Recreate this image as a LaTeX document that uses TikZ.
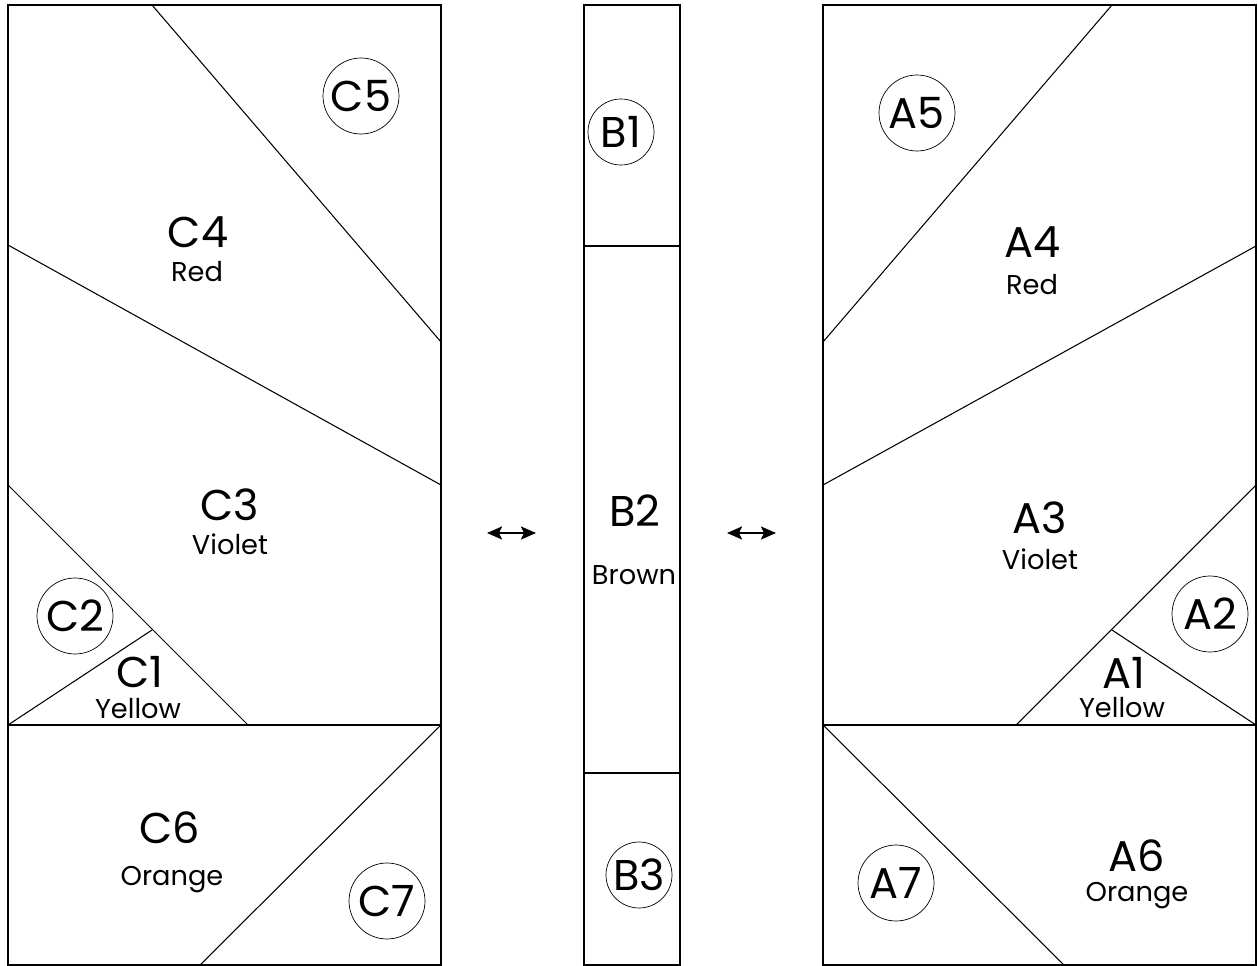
\documentclass[tikz,border=0pt]{standalone}
\usepackage{fontspec}
\setmainfont{Poppins}
\usepackage{tikz}
\usetikzlibrary{arrows, arrows.meta}
\usetikzlibrary{positioning}

\tikzset{
	piece/.style={line width=0.6pt},
	bigtag/.style={anchor=base, inner sep=0pt, font=\fontsize{24.5}{26}\selectfont},
	colourtag/.style={anchor=base, inner sep=0pt, font=\fontsize{15.5}{17}\selectfont},
	ringtag/.style={circle, draw, line width=0.4pt, inner sep=0pt, minimum size=1.52cm, font=\fontsize{24.5}{26}\selectfont},
	smallring/.style={ringtag, minimum size=1.32cm},
	swaparrow/.style={line width=1.2pt, {Stealth[length=0.3cm,width=0.26cm,inset=0.06cm]}-{Stealth[length=0.3cm,width=0.26cm,inset=0.06cm]}},
}

\begin{document}
\begin{tikzpicture}[x=0.02cm, y=-0.02cm]
	\useasboundingbox (0,0) rectangle (1258,966);
	% left panel
	\draw[piece] (8,5) rectangle (441,965);
	\draw[piece] (152,5) -- (441,342);
	\draw[piece] (8,245) -- (441,485);
	\draw[piece] (8,485) -- (248,725);
	\draw[piece] (8,725) -- (152,630);
	\draw[piece] (8,725) -- (441,725);
	\draw[piece] (441,725) -- (200,965);
	\node[ringtag] (c5) at (361,96) {C5};
	\node[bigtag] (c4) at (198,248) {C4};
	\node[colourtag] (c4col) at (197,282) {Red};
	\node[bigtag] (c3) at (230,520) {C3};
	\node[colourtag] (c3col) at (230,554) {Violet};
	\node[ringtag] (c2) at (75,616) {C2};
	\node[bigtag] (c1) at (140,687) {C1};
	\node[colourtag] (c1col) at (138,718) {Yellow};
	\node[bigtag] (c6) at (170,843) {C6};
	\node[colourtag] (c6col) at (172,885) {Orange};
	\node[ringtag] (c7) at (387,901) {C7};
	% middle panel
	\draw[piece] (584,5) rectangle (680,965);
	\draw[piece] (584,246) -- (680,246);
	\draw[piece] (584,773) -- (680,773);
	\node[smallring] (b1) at (621,132) {B1};
	\node[bigtag] (b2) at (635,526) {B2};
	\node[colourtag] (b2col) at (634,584) {Brown};
	\node[smallring] (b3) at (639,875) {B3};
	% right panel
	\draw[piece] (823,5) rectangle (1256,965);
	\draw[piece] (823,342) -- (1112,5);
	\draw[piece] (823,485) -- (1256,246);
	\draw[piece] (1256,485) -- (1016,725);
	\draw[piece] (1112,630) -- (1256,725);
	\draw[piece] (823,725) -- (1256,725);
	\draw[piece] (823,725) -- (1064,965);
	\node[ringtag] (a5) at (917,113) {A5};
	\node[bigtag] (a4) at (1033,258) {A4};
	\node[colourtag] (a4col) at (1032,295) {Red};
	\node[bigtag] (a3) at (1040,533) {A3};
	\node[colourtag] (a3col) at (1040,569) {Violet};
	\node[ringtag] (a2) at (1210,614) {A2};
	\node[bigtag] (a1) at (1124,688) {A1};
	\node[colourtag] (a1col) at (1122,717) {Yellow};
	\node[bigtag] (a6) at (1137,871) {A6};
	\node[colourtag] (a6col) at (1137,901) {Orange};
	\node[ringtag] (a7) at (896,883) {A7};
	% swap arrows
	\coordinate (lswapA) at (487,533);
	\coordinate (lswapB) at (536,533);
	\coordinate (rswapA) at (727,533);
	\coordinate (rswapB) at (776,533);
	\draw[swaparrow] (lswapA) -- (lswapB);
	\draw[swaparrow] (rswapA) -- (rswapB);
\end{tikzpicture}
\end{document}
